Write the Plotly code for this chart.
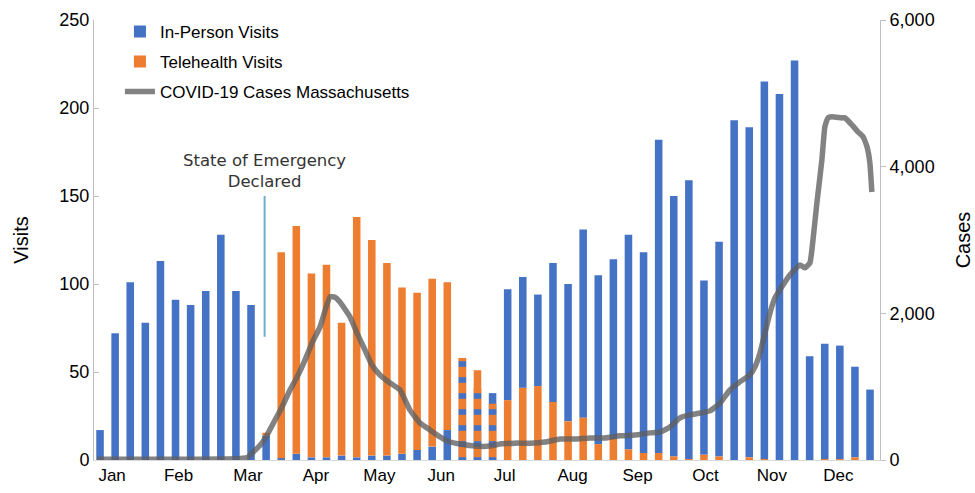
import plotly.graph_objects as go

# ---------------- data ----------------
weeks = list(range(52))

in_person = [17, 72, 101, 78, 113, 91, 88, 96, 128, 96, 88, 14,
             1, 3.5, 1.5, 1.5, 2.5, 1.5, 2.5, 2.5, 3.5, 5.7, 7.6, 17,
             23, 16, 18,
             63, 63, 52, 79, 78, 107, 96, 102, 122, 114, 178, 148, 158.5,
             99, 122, 193, 187.5, 214.5, 208, 227, 59, 65.5, 64.5, 51.5, 40]

telehealth = [0, 0, 0, 0, 0, 0, 0, 0, 0, 0, 0, 1.5,
              117, 129.5, 104.5, 109.5, 75.5, 136.5, 122.5, 109.5, 94.5, 89.3, 95.4, 84,
              35, 35, 20,
              34, 41, 42, 33, 22, 24, 9, 12, 6, 4, 4, 2, 0.5,
              3, 2, 0, 1.5, 0.5, 0, 0, 0, 0.5, 0.5, 1.5, 0]

# weeks from which telehealth is drawn at the bottom of the bar
tele_bottom_from_week = 26

# weeks whose bars appear striped (mixed) and the striped height
striped_weeks = [24, 25, 26]
striped_height = [58, 41, 32]

case_weeks = [-0.2, 2, 5, 8, 9.27, 9.8, 10.07, 10.6, 11.06, 11.59, 12.05, 12.58, 13.05,
              13.58, 14.04, 14.57, 15.23, 15.56, 15.89, 16.56, 17.02, 17.55, 18.01,
              18.54, 19.21, 19.87, 20.53, 21.19, 21.85, 22.52, 23.18, 23.84, 24.83,
              25.83, 26.49, 27.48, 28.48, 29.47, 30.46, 31.46, 32.45, 33.44, 34.44,
              35.43, 36.42, 37.09, 37.75, 38.41, 39.07, 39.74, 40.4, 41.06, 41.72,
              42.38, 43.05, 43.38, 43.71, 44.04, 44.37, 44.7, 45.03, 45.7, 46.36,
              46.69, 47.02, 47.15, 47.48, 47.81, 48.01, 48.21, 48.48, 49.14, 49.34,
              49.8, 50.2, 50.53, 50.8, 50.99, 51.12]
cases = [10, 10, 10, 12, 20, 40, 95, 200, 340, 545, 720, 955, 1130,
         1365, 1595, 1815, 2225, 2220, 2155, 1950, 1730, 1500, 1295,
         1160, 1050, 955, 680, 505, 410, 315, 245, 218, 190,
         190, 218, 230, 230, 245, 285, 285, 300, 300, 330,
         340, 370, 380, 450, 575, 615, 640, 670, 775, 955,
         1065, 1160, 1270, 1460, 1730, 2005, 2210, 2320, 2525, 2660,
         2620, 2690, 2865, 3505, 4090, 4545, 4665, 4680, 4665, 4665,
         4570, 4475, 4410, 4270, 4050, 3655]

month_labels = ["Jan", "Feb", "Mar", "Apr", "May", "Jun", "Jul", "Aug", "Sep", "Oct", "Nov", "Dec"]
month_tick_pos = [0.8, 5.2, 9.8, 14.3, 18.5, 22.6, 26.8, 31.3, 35.6, 40.1, 44.5, 48.9]

emergency_week = 10.9
emergency_line_range = [70, 150]

# ---------------- derived stacking ----------------
tele_base = [0 if w >= tele_bottom_from_week else p for w, p in zip(weeks, in_person)]
in_base = [t if w >= tele_bottom_from_week else 0 for w, t in zip(weeks, telehealth)]

BLUE = "#4472C4"
ORANGE = "#ED7D31"
FONT = "Liberation Sans, Arial, sans-serif"

fig = go.Figure()

fig.add_trace(go.Bar(
    x=weeks, y=in_person, base=in_base, name="In-Person Visits", legendgroup="a",
    marker=dict(color=BLUE, line=dict(width=0)), width=0.5,
))
fig.add_trace(go.Bar(
    x=weeks, y=telehealth, base=tele_base, name="Telehealth Visits", legendgroup="b",
    marker=dict(color=ORANGE, line=dict(width=0)), width=0.5,
))
fig.add_trace(go.Bar(
    x=striped_weeks, y=striped_height, base=[0] * len(striped_weeks),
    showlegend=False, hoverinfo="skip", width=0.5, legendgroup="b",
    marker=dict(color=ORANGE, line=dict(width=0),
                pattern=dict(shape="-", fgcolor=BLUE, bgcolor=ORANGE,
                             size=16, solidity=0.35, fillmode="replace")),
))
fig.add_trace(go.Scatter(
    x=case_weeks, y=cases, name="COVID-19 Cases Massachusetts", yaxis="y2", legendgroup="c",
    mode="lines", line=dict(color="rgba(95,95,95,0.78)", width=5.5, shape="spline", smoothing=0.4),
))

fig.add_shape(type="line", xref="x", yref="y",
              x0=emergency_week, x1=emergency_week,
              y0=emergency_line_range[0], y1=emergency_line_range[1],
              line=dict(color="#6FAECB", width=2))
fig.add_annotation(x=emergency_week, y=emergency_line_range[1], xref="x", yref="y",
                   text="State of Emergency<br>Declared", showarrow=False,
                   yanchor="bottom", yshift=3,
                   font=dict(family="DejaVu Sans", size=16.5, color="#333333"))

fig.update_layout(
    width=975, height=493,
    margin=dict(l=94, r=95, t=20, b=33, autoexpand=False),
    plot_bgcolor="white", paper_bgcolor="white",
    barmode="overlay",
    font=dict(family=FONT, color="#000000"),
    showlegend=True,
    legend=dict(x=0.033, y=1.014, xanchor="left", yanchor="top", traceorder="grouped",
                tracegroupgap=5,
                bgcolor="rgba(0,0,0,0)", font=dict(size=17, family=FONT)),
    xaxis=dict(range=[-0.4, 51.66], tickmode="array", tickvals=month_tick_pos,
               ticktext=month_labels, showline=True, linecolor="#D9D9D9", linewidth=1,
               ticks="", showgrid=False, zeroline=False, tickfont=dict(size=17),
               automargin=False),
    yaxis=dict(range=[0, 250], dtick=50, showline=True, linecolor="#BFBFBF",
               ticks="inside", ticklen=5, tickcolor="#BFBFBF", showgrid=False,
               zeroline=False, tickfont=dict(size=18), automargin=False,
               title=dict(text="Visits", font=dict(size=20), standoff=25)),
    yaxis2=dict(range=[0, 6000], dtick=2000, overlaying="y", side="right",
                tickformat=",", showline=True, linecolor="#BFBFBF",
                ticks="outside", ticklen=5, tickcolor="#BFBFBF", showgrid=False,
                zeroline=False, tickfont=dict(size=18), automargin=False,
                title=dict(text="Cases", font=dict(size=20), standoff=22)),
)

fig.write_html("out.html", config={"displayModeBar": False},
               post_script="document.body.style.margin='0';document.body.style.overflow='hidden';")
